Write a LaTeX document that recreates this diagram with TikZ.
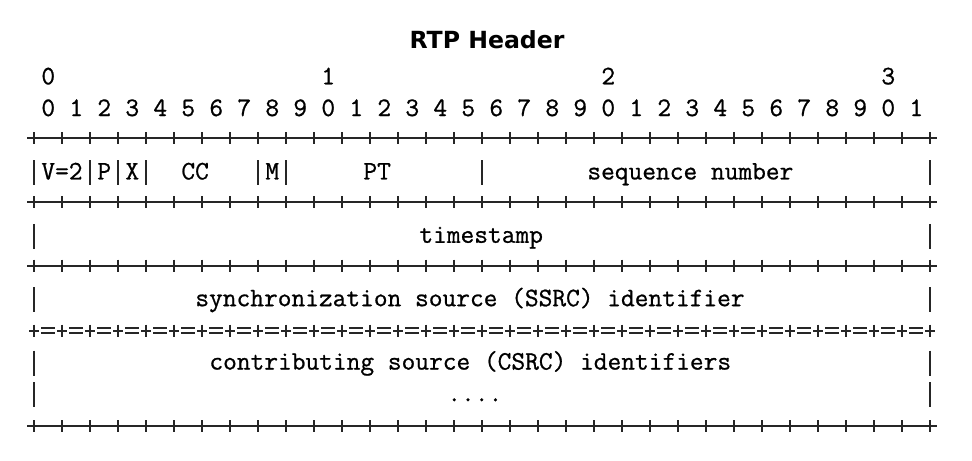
\documentclass[tikz,border=0pt]{standalone}
\usepackage{fontspec}
\newfontfamily\headfont{DejaVu Sans}
\newfontfamily\fieldfont[FakeBold=0.8]{Latin Modern Mono}
\usetikzlibrary{positioning}
\tikzset{>=latex}
\tikzset{
  field/.style={anchor=base west, inner sep=0pt, font=\fieldfont\fontsize{13.33}{16}\selectfont},
  heading/.style={anchor=base, inner sep=0pt, font=\headfont\bfseries\fontsize{11.8}{14}\selectfont},
  rule/.style={line width=1pt, black!85},
  bar/.style={line width=0.9pt, black!85},
}
% one character column is 14 units wide, column 0 starts at 27
\newcommand{\colx}[1]{27+14*#1}
% +-+-+ separator at height #1
\newcommand{\plusrow}[1]{%
  \draw[rule] (27,#1) -- (937,#1);
  \foreach \j in {0,...,32}
    \draw[rule] ({34+28*\j},{#1-6}) -- ({34+28*\j},{#1+6});
}
% +=+=+ separator at height #1
\newcommand{\eqrow}[1]{%
  \foreach \j in {0,...,32}{
    \draw[rule] ({34+28*\j},{#1-6}) -- ({34+28*\j},{#1+6});
    \draw[rule] ({34+28*\j-5},#1) -- ({34+28*\j+5},#1);
  }
  \foreach \j in {0,...,31}{
    \draw[rule] ({34+28*\j+7},{#1-2.5}) -- ({34+28*\j+21},{#1-2.5});
    \draw[rule] ({34+28*\j+7},{#1+2.5}) -- ({34+28*\j+21},{#1+2.5});
  }
}
% | in column #1 on the line with baseline #2
\newcommand{\vbar}[2]{\draw[bar] ({34+14*#1},{#2-19}) -- ({34+14*#1},{#2+6});}

\begin{document}
\begin{tikzpicture}[x=0.5pt, y=-0.5pt]
  \useasboundingbox (0,0) rectangle (972,460);
  \node[heading] (head) at (487,49) {RTP Header};

  % bit numbers
  \foreach \t in {0,...,3}
    \node[field] (ten\t) at ({\colx{(20*\t+1)}},84.3) {\t};
  \foreach \i in {0,...,31}{
    \pgfmathtruncatemacro{\u}{mod(\i,10)}
    \node[field] (bit\i) at ({\colx{(2*\i+1)}},116) {\u};
  }

  \plusrow{138}
  % first word
  \foreach \c in {0,4,6,8,16,18,32,64} {\vbar{\c}{179.4}}
  \node[field] (ver)  at ({\colx{1}},179.4)  {V=2};
  \node[field] (pad)  at ({\colx{5}},179.4)  {P};
  \node[field] (ext)  at ({\colx{7}},179.4)  {X};
  \node[field] (cc)   at ({\colx{11}},179.4) {CC};
  \node[field] (mark) at ({\colx{17}},179.4) {M};
  \node[field] (pt)   at ({\colx{24}},179.4) {PT};
  \node[field] (seq)  at ({\colx{40}},179.4) {sequence number};
  \plusrow{202}

  \vbar{0}{242.8} \vbar{64}{242.8}
  \node[field] (ts) at ({\colx{28}},242.8) {timestamp};
  \plusrow{265.5}

  \vbar{0}{306.2} \vbar{64}{306.2}
  \node[field] (ssrc) at ({\colx{12}},306.2) {synchronization source (SSRC) identifier};
  \eqrow{330.5}

  \vbar{0}{369.6} \vbar{64}{369.6}
  \vbar{0}{401.3} \vbar{64}{401.3}
  \node[field] (csrc) at ({\colx{13}},369.6) {contributing source (CSRC) identifiers};
  \node[field] (dots) at ({\colx{30}},401.3) {....};
  \plusrow{426}
\end{tikzpicture}
\end{document}
